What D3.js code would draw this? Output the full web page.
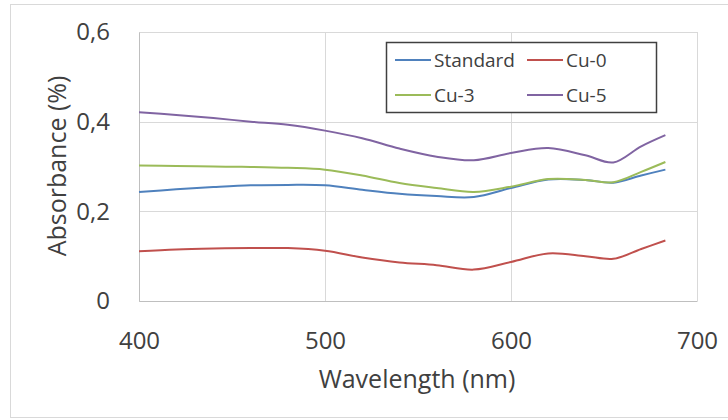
<!DOCTYPE html>
<html lang="en">
<head>
    <meta charset="UTF-8">
    <title>Absorbance vs wavelength</title>
    <script src="https://d3js.org/d3.v7.min.js"></script>
    <style>
        body {
            margin: 0;
            padding: 0;
            background-color: white;
            font-family: 'Open Sans', sans-serif;
        }
    </style>
</head>
<body>
    <div id="chart"></div>
    <script>
        // wavelength sample points (nm)
        var wavelength = [400, 420, 440, 460, 480, 500, 520, 540, 560, 580, 600, 620, 640, 655, 670, 683];
        var standard = [0.243, 0.249, 0.254, 0.258, 0.259, 0.258, 0.248, 0.239, 0.234, 0.232, 0.252, 0.271, 0.270, 0.264, 0.280, 0.293];
        var cu0 = [0.111, 0.115, 0.117, 0.118, 0.118, 0.112, 0.097, 0.086, 0.080, 0.070, 0.087, 0.106, 0.100, 0.094, 0.116, 0.135];
        var cu3 = [0.302, 0.301, 0.300, 0.299, 0.297, 0.293, 0.280, 0.263, 0.252, 0.243, 0.255, 0.272, 0.270, 0.265, 0.288, 0.310];
        var cu5 = [0.421, 0.415, 0.408, 0.400, 0.393, 0.380, 0.363, 0.340, 0.322, 0.314, 0.330, 0.341, 0.325, 0.309, 0.345, 0.370];

        var seriesNames = ["Standard", "Cu-0", "Cu-3", "Cu-5"];
        var seriesValues = [standard, cu0, cu3, cu5];
        var colors = ["#4F81BD", "#C0504D", "#9BBB59", "#8064A2"];

        var xTicks = [400, 500, 600, 700];
        var yTicks = [0, 0.2, 0.4, 0.6];

        var W = 728, H = 420;
        var margin = { top: 32, right: 31, bottom: 119, left: 139 };
        var width = W - margin.left - margin.right;
        var height = H - margin.top - margin.bottom;

        var svg = d3.select("#chart")
            .append("svg")
            .attr("width", W)
            .attr("height", H);

        // outer chart border
        svg.append("rect")
            .attr("x", 10.5)
            .attr("y", 4.5)
            .attr("width", 730)
            .attr("height", 413)
            .attr("fill", "none")
            .attr("stroke", "#d9d9d9");

        var g = svg.append("g")
            .attr("transform", "translate(" + margin.left + "," + margin.top + ")");

        var x = d3.scaleLinear().domain([400, 700]).range([0, width]);
        var y = d3.scaleLinear().domain([0, 0.6]).range([height, 0]);

        // gridlines
        g.selectAll(".vgrid")
            .data(xTicks)
            .enter()
            .append("line")
            .attr("x1", function (d) { return Math.round(x(d)) + 0.5; })
            .attr("x2", function (d) { return Math.round(x(d)) + 0.5; })
            .attr("y1", 0)
            .attr("y2", height)
            .attr("stroke", "#d9d9d9");

        g.selectAll(".hgrid")
            .data(yTicks)
            .enter()
            .append("line")
            .attr("x1", 0)
            .attr("x2", width)
            .attr("y1", function (d) { return Math.round(y(d)) + 0.5; })
            .attr("y2", function (d) { return Math.round(y(d)) + 0.5; })
            .attr("stroke", "#d9d9d9");

        // axes
        var xAxis = g.append("g")
            .attr("transform", "translate(0," + height + ")")
            .call(d3.axisBottom(x).tickValues(xTicks).tickSize(0).tickPadding(48).tickFormat(d3.format("d")));
        xAxis.select(".domain").attr("stroke", "#bfbfbf");
        xAxis.selectAll("text")
            .attr("fill", "#404040")
            .style("font-size", "24px")
            .style("font-family", "'Open Sans', sans-serif")
            .attr("dy", "0");

        var yAxis = g.append("g")
            .call(d3.axisLeft(y).tickValues(yTicks).tickSize(0).tickPadding(29)
                .tickFormat(function (d) { return d === 0 ? "0" : d3.format(".1f")(d).replace(".", ","); }));
        yAxis.select(".domain").attr("stroke", "#bfbfbf");
        yAxis.selectAll("text")
            .attr("fill", "#404040")
            .style("font-size", "24px")
            .style("font-family", "'Open Sans', sans-serif");

        // lines
        var line = d3.line()
            .x(function (d, i) { return x(wavelength[i]); })
            .y(function (d) { return y(d); })
            .curve(d3.curveCatmullRom.alpha(0.5));

        seriesValues.forEach(function (vals, i) {
            g.append("path")
                .datum(vals)
                .attr("fill", "none")
                .attr("stroke", colors[i])
                .attr("stroke-width", 2)
                .attr("d", line);
        });

        // axis titles
        svg.append("text")
            .attr("x", 417)
            .attr("y", 388)
            .attr("text-anchor", "middle")
            .attr("fill", "#404040")
            .style("font-size", "25px")
            .text("Wavelength (nm)");

        svg.append("text")
            .attr("transform", "translate(66,166) rotate(-90)")
            .attr("text-anchor", "middle")
            .attr("fill", "#404040")
            .style("font-size", "25px")
            .text("Absorbance (%)");

        // legend
        var legend = svg.append("g").attr("transform", "translate(386,42)");
        legend.append("rect")
            .attr("x", 0.5)
            .attr("y", 0.5)
            .attr("width", 270)
            .attr("height", 70)
            .attr("fill", "white")
            .attr("stroke", "#404040")
            .attr("stroke-width", 1.5);

        seriesNames.forEach(function (name, i) {
            var col = i % 2, row = Math.floor(i / 2);
            var lx = 9 + col * 132, ly = 18 + row * 35;
            legend.append("line")
                .attr("x1", lx)
                .attr("x2", lx + 36)
                .attr("y1", ly)
                .attr("y2", ly)
                .attr("stroke", colors[i])
                .attr("stroke-width", 2);
            legend.append("text")
                .attr("x", lx + 39)
                .attr("y", ly)
                .attr("dy", "0.35em")
                .attr("fill", "#404040")
                .style("font-size", "19px")
                .text(name);
        });
    </script>
</body>
</html>
